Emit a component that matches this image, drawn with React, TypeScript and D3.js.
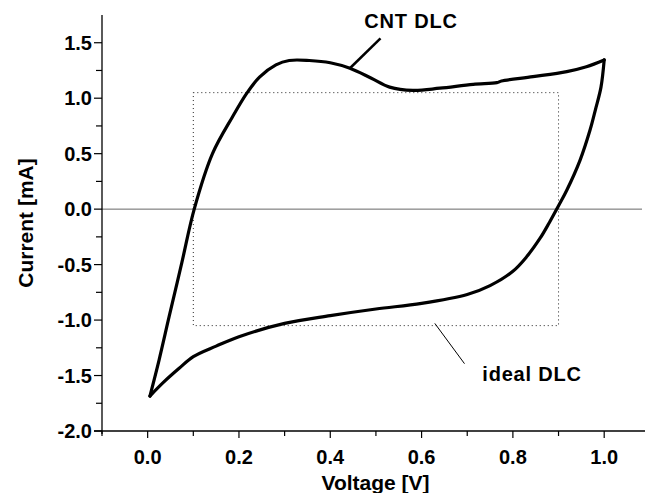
import React from 'react';
import * as d3 from 'd3';

// CNT DLC cyclic voltammogram (V, mA)
// forward sweep (upper branch)
const fwdVoltage = [
  0.005, 0.025, 0.047, 0.075, 0.102, 0.142, 0.186, 0.218, 0.245, 0.281, 0.31, 0.354,
  0.4, 0.443, 0.49, 0.53, 0.581, 0.64, 0.713, 0.765, 0.775, 0.844, 0.918, 0.961, 1.0,
];
const fwdCurrent = [
  -1.685, -1.36, -0.97, -0.48, 0.0, 0.5, 0.833, 1.05, 1.19, 1.3, 1.34, 1.34,
  1.32, 1.27, 1.18, 1.1, 1.07, 1.09, 1.125, 1.14, 1.155, 1.194, 1.24, 1.284, 1.345,
];
// reverse sweep (lower branch)
const revVoltage = [
  1.0, 0.993, 0.981, 0.969, 0.947, 0.918, 0.9, 0.88, 0.86, 0.83, 0.8, 0.75, 0.7,
  0.6, 0.5, 0.4, 0.3, 0.2, 0.15, 0.1, 0.069, 0.035, 0.005,
];
const revCurrent = [
  1.345, 1.1, 0.9, 0.713, 0.44, 0.17, 0.03, -0.12, -0.26, -0.43, -0.56, -0.69, -0.77,
  -0.85, -0.9, -0.96, -1.03, -1.15, -1.235, -1.33, -1.435, -1.56, -1.685,
];

// ideal double layer capacitor box
const idealVoltage = [0.1, 0.9];
const idealCurrent = [-1.05, 1.05];

const xTicks = [0, 0.2, 0.4, 0.6, 0.8, 1.0];
const xMinorTicks = [-0.1, 0.1, 0.3, 0.5, 0.7, 0.9];
const yTicks = [-2.0, -1.5, -1.0, -0.5, 0.0, 0.5, 1.0, 1.5];
const yMinorTicks = [-1.75, -1.25, -0.75, -0.25, 0.25, 0.75, 1.25];

const font = '"Liberation Sans", Arial, sans-serif';

export default function App() {
  const width = 649;
  const height = 493;
  const margin = { top: 15, right: 6, bottom: 62, left: 102 };

  const x = d3.scaleLinear().domain([-0.1, 1.085]).range([margin.left, width - margin.right]);
  const y = d3.scaleLinear().domain([-2.0, 1.75]).range([height - margin.bottom, margin.top]);

  const lineY = d3.line<[number, number]>()
    .x(d => x(d[0]))
    .y(d => y(d[1]))
    .curve(d3.curveCatmullRom.alpha(0.5));

  const fwd: [number, number][] = fwdVoltage.map((v, i) => [v, fwdCurrent[i]]);
  const rev: [number, number][] = revVoltage.map((v, i) => [v, revCurrent[i]]);

  const x0 = x(-0.1);
  const y0 = y(-2.0);

  return (
    <svg width={width} height={height} style={{ position: 'absolute', left: 0, top: 0, background: '#fff' }}>
      {/* zero line */}
      <line x1={x0} x2={x(1.085) - 1} y1={y(0)} y2={y(0)} stroke="#666" strokeWidth={1} />

      {/* ideal DLC */}
      <rect
        x={x(idealVoltage[0])}
        y={y(idealCurrent[1])}
        width={x(idealVoltage[1]) - x(idealVoltage[0])}
        height={y(idealCurrent[0]) - y(idealCurrent[1])}
        fill="none"
        stroke="#222"
        strokeWidth={1}
        strokeDasharray="1,3"
      />

      {/* CNT DLC */}
      <path d={lineY(fwd) || ''} fill="none" stroke="#000" strokeWidth={3.2} strokeLinejoin="round" strokeLinecap="round" />
      <path d={lineY(rev) || ''} fill="none" stroke="#000" strokeWidth={3.2} strokeLinejoin="round" strokeLinecap="round" />

      {/* axes */}
      <line x1={x0} x2={x0} y1={margin.top} y2={y0 + 3} stroke="#000" strokeWidth={1.3} />
      <line x1={x0 - 8} x2={width - 4} y1={y0} y2={y0} stroke="#000" strokeWidth={1.3} />
      {yTicks.map(t => (
        <g key={'y' + t}>
          <line x1={x0 - 8} x2={x0} y1={y(t)} y2={y(t)} stroke="#000" strokeWidth={1.2} />
          <text x={x0 - 10} y={y(t)} dy="0.36em" textAnchor="end" fontFamily={font} fontWeight="bold" fontSize={20}>
            {t.toFixed(1)}
          </text>
        </g>
      ))}
      {yMinorTicks.map(t => (
        <line key={'ym' + t} x1={x0 - 6} x2={x0} y1={y(t)} y2={y(t)} stroke="#000" strokeWidth={1.2} />
      ))}
      {xTicks.map(t => (
        <g key={'x' + t}>
          <line x1={x(t)} x2={x(t)} y1={y0} y2={y0 + 7} stroke="#000" strokeWidth={1.2} />
          <text x={x(t)} y={y0 + 33} textAnchor="middle" fontFamily={font} fontWeight="bold" fontSize={20}>
            {t.toFixed(1)}
          </text>
        </g>
      ))}
      {xMinorTicks.map(t => (
        <line key={'xm' + t} x1={x(t)} x2={x(t)} y1={y0} y2={y0 + 5} stroke="#000" strokeWidth={1.2} />
      ))}

      <text x={(x0 + width) / 2} y={height - 3} textAnchor="middle" fontFamily={font} fontWeight="bold" fontSize={21}>
        Voltage [V]
      </text>
      <text
        transform={`translate(33,${(margin.top + y0) / 2}) rotate(-90)`}
        textAnchor="middle"
        fontFamily={font}
        fontWeight="bold"
        fontSize={21}
      >
        Current [mA]
      </text>

      {/* annotations */}
      <line x1={x(0.51)} x2={x(0.443)} y1={y(1.54)} y2={y(1.27)} stroke="#000" strokeWidth={2.5} />
      <text x={411} y={28} textAnchor="middle" fontFamily={font} fontWeight="bold" fontSize={20} letterSpacing={0.8}>
        CNT DLC
      </text>
      <line x1={x(0.629)} x2={x(0.694)} y1={y(-1.03)} y2={y(-1.393)} stroke="#000" strokeWidth={1} />
      <text x={532} y={381} textAnchor="middle" fontFamily={font} fontWeight="bold" fontSize={20} letterSpacing={0.8}>
        ideal DLC
      </text>
    </svg>
  );
}
